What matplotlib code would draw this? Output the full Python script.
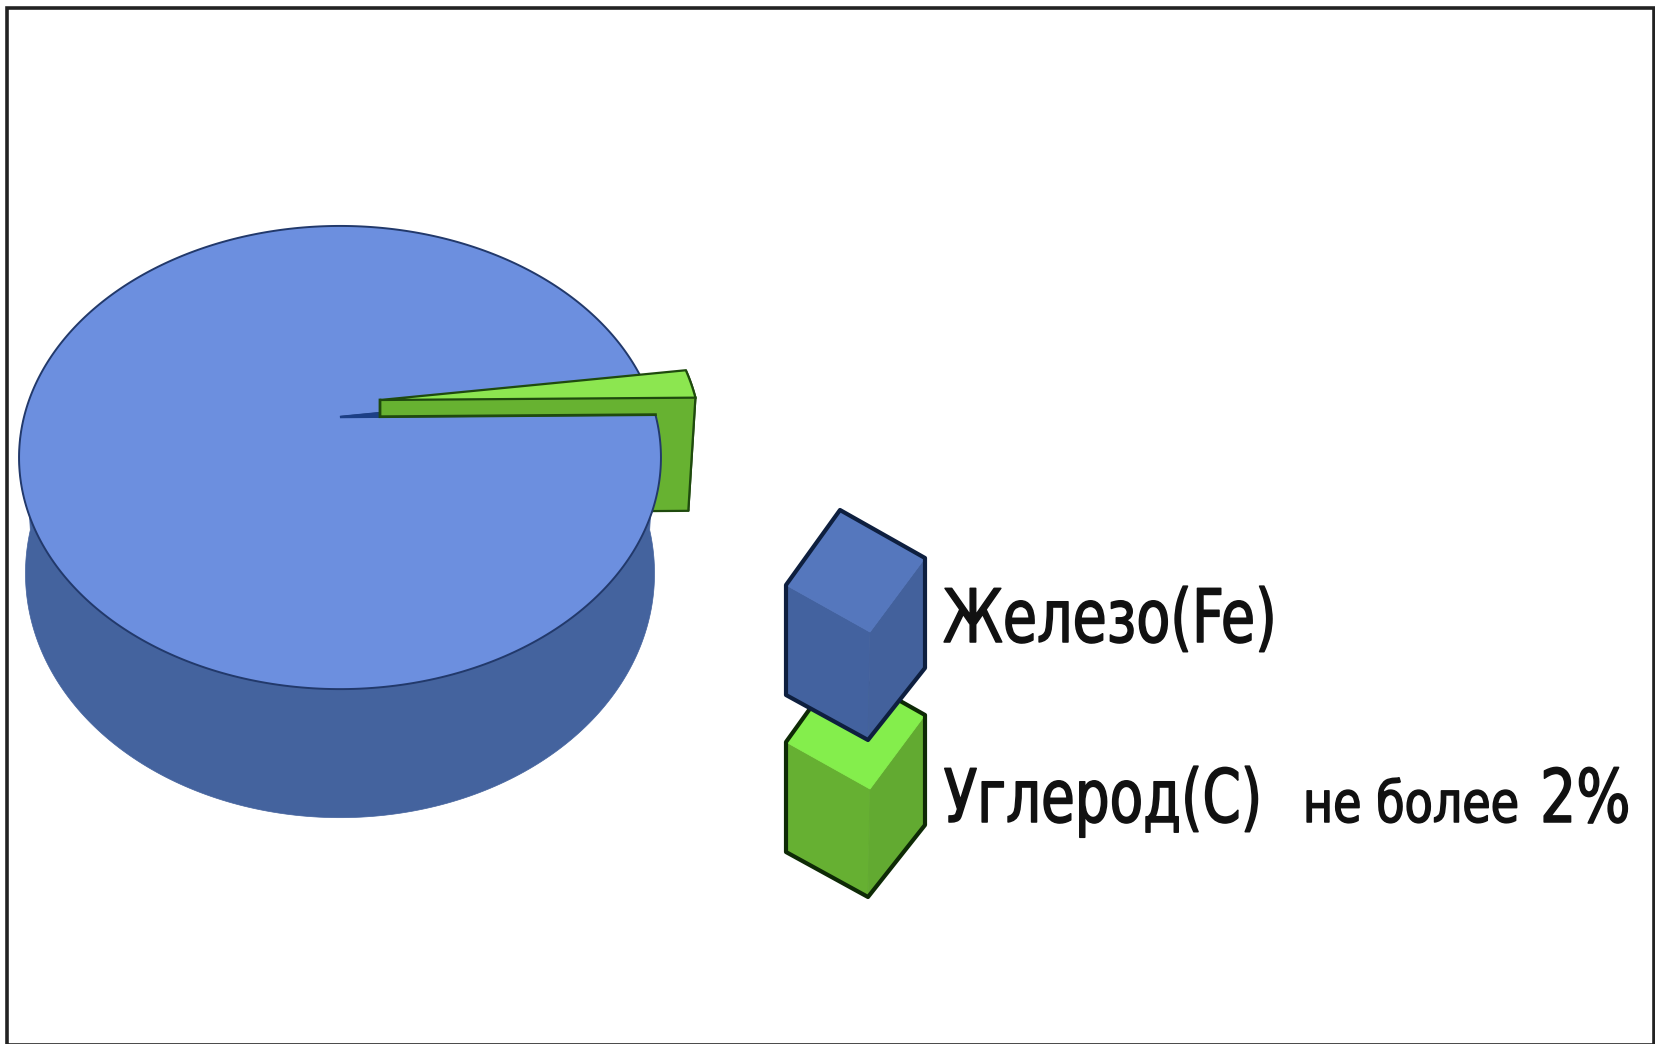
import numpy as np
import matplotlib
matplotlib.use("Agg")
import matplotlib.pyplot as plt
from matplotlib.patches import Polygon, Rectangle
from matplotlib.patheffects import AbstractPathEffect
from matplotlib.transforms import Affine2D

# Composition of the alloy
categories = ["Железо(Fe)", "Углерод(C)"]
shares = [98, 2]
note_text = "не более"
note_value = "2%"

W, H = 1655, 1044
fig = plt.figure(figsize=(W / 100, H / 100), dpi=100, facecolor="white")
ax = fig.add_axes([0, 0, 1, 1])
ax.set_xlim(0, W)
ax.set_ylim(H, 0)
ax.axis("off")

# Perspective disc: centre, half-axes and foreshortening of the pie
CX, CY, A, B, K = 340.0, 417.0, 316.0, 224.5, 0.175
BASE_SCALE = 0.98
DEPTH_MID, DEPTH_GROW = 113.0, 21.0
START_DEG = 0.6
EXPLODE = np.array([40.0, -17.0])


def top_point(t):
    u, v = np.cos(t), np.sin(t)
    w = 1 + K * v
    return np.column_stack([CX + A * u / w, CY - B * v / w])


def base_point(t):
    u, v = np.cos(t), np.sin(t)
    w = 1 + K * v
    return np.column_stack([
        CX + BASE_SCALE * A * u / w,
        CY - BASE_SCALE * B * v / w + DEPTH_MID - DEPTH_GROW * v,
    ])


def on_radial(rim, x):
    """Point of the radius from the centre to a rim point, at abscissa x."""
    return apex + (rim - apex) * (x - CX) / (rim[0, 0] - CX)


sweep = 2 * np.pi * np.array(shares) / sum(shares)
t0 = np.deg2rad(START_DEG)
t1 = t0 + sweep[1]
apex = np.array([[CX, CY]])
arc_c = np.linspace(t0, t1, 12)
arc_fe = np.linspace(t1, t1 + sweep[0], 400)

BLUE_TOP, BLUE_SIDE, BLUE_EDGE = "#6c8fdf", "#44639e", "#22396b"
GREEN_TOP, GREEN_SIDE, GREEN_EDGE = "#8ce650", "#67b231", "#1f4a0e"

# Wall of the large slice
wall = np.linspace(np.pi, 2 * np.pi, 200)
ax.add_patch(Polygon(np.vstack([top_point(wall), base_point(wall)[::-1]]),
                     fc=BLUE_SIDE, ec=BLUE_SIDE, lw=0.5, zorder=2))

# Pulled-out small slice: its lower walls sit behind the large slice's top
tip_top = apex + EXPLODE
tip_base = tip_top + [0, DEPTH_MID]
rim_top = top_point(arc_c) + EXPLODE
rim_base = base_point(arc_c) + EXPLODE * BASE_SCALE
ax.add_patch(Polygon(np.vstack([rim_top, rim_base[::-1]]),
                     fc=GREEN_SIDE, ec=GREEN_EDGE, lw=1.6, zorder=4))
ax.add_patch(Polygon(np.vstack([tip_top, rim_top[:1], rim_base[:1], tip_base]),
                     fc=GREEN_SIDE, ec=GREEN_EDGE, lw=1.6, zorder=4))

# Top of the large slice
ax.add_patch(Polygon(np.vstack([apex, top_point(arc_fe)]),
                     fc=BLUE_TOP, ec=BLUE_EDGE, lw=1.4, zorder=5))

# Cut face seen through the notch, and the dark sliver ahead of the tip
rim_home = top_point(arc_c[:1])
notch_foot = on_radial(rim_home, tip_top[0, 0])
notch_head = on_radial(top_point(arc_c[-1:]), tip_top[0, 0])
ax.add_patch(Polygon(np.vstack([apex, notch_head, notch_foot]),
                     fc="#1c3f86", ec="#1c3f86", lw=1.8, zorder=6))
ax.add_patch(Polygon(np.vstack([tip_top, rim_top[:1], rim_home, notch_foot]),
                     fc=GREEN_SIDE, ec=GREEN_SIDE, lw=0.5, zorder=6))
lower_edge = np.vstack([tip_top, notch_foot, rim_home])
ax.plot(lower_edge[:, 0], lower_edge[:, 1], color=GREEN_EDGE, lw=2.0,
        solid_joinstyle="miter", zorder=6)

# Top of the small slice
ax.add_patch(Polygon(np.vstack([tip_top, rim_top]),
                     fc=GREEN_TOP, ec=GREEN_EDGE, lw=1.6, zorder=7))


def legend_cube(dy, top, side, shade, edge):
    """Three-faced legend key; dy moves it down the column."""
    pts = np.array([[840, 510], [925, 558], [925, 668], [868, 740],
                    [786, 695], [786, 585], [870, 632]], float) + [0, dy]
    ax.add_patch(Polygon(pts[[5, 6, 3, 4]], fc=side, ec=side, lw=0.6, zorder=8))
    ax.add_patch(Polygon(pts[[6, 1, 2, 3]], fc=shade, ec=shade, lw=0.6, zorder=8))
    ax.add_patch(Polygon(pts[[0, 1, 6, 5]], fc=top, ec=top, lw=0.6, zorder=8))
    ax.add_patch(Polygon(pts[:6], fc="none", ec=edge, lw=3.0, joinstyle="round", zorder=8))


legend_cube(157, "#84ee4c", "#66b032", "#62aa31", "#0e2a06")
legend_cube(0, "#5577bd", "#43629f", "#43619c", "#0e1f3f")


class HorizontalSqueeze(AbstractPathEffect):
    """Narrow and slightly embolden the glyphs about a fixed abscissa."""

    def __init__(self, factor, pivot, weight=1.1):
        super().__init__()
        self.factor, self.pivot, self.weight = factor, pivot, weight

    def draw_path(self, renderer, gc, tpath, affine, rgbFace=None):
        squeeze = (Affine2D().translate(-self.pivot, 0)
                   .scale(self.factor, 1).translate(self.pivot, 0))
        stroke = renderer.new_gc()
        stroke.copy_properties(gc)
        stroke.set_linewidth(self.weight)
        stroke.set_foreground(rgbFace)
        renderer.draw_path(stroke, tpath, affine + squeeze, rgbFace)
        stroke.restore()


def label(x, y, text, size, factor, ha="left"):
    ax.text(x, y, text, fontsize=size, family="DejaVu Sans", color="#111111",
            ha=ha, va="baseline", zorder=9,
            path_effects=[HorizontalSqueeze(factor, x)])


label(943, 642, categories[0], 53, 0.755)
label(1262, 822, categories[1], 53, 0.745, ha="right")
label(1411, 822, note_text, 41, 0.81, ha="center")
label(1540, 822, note_value, 53, 0.775)

# Outer frame; its lower side falls on the very edge of the canvas
ax.add_patch(Rectangle((6.5, 7.5), 1647, 1037.5, fc="none", ec="#222222", lw=2.6,
                       zorder=10))

fig.savefig("out.png", dpi=100, facecolor="white")
